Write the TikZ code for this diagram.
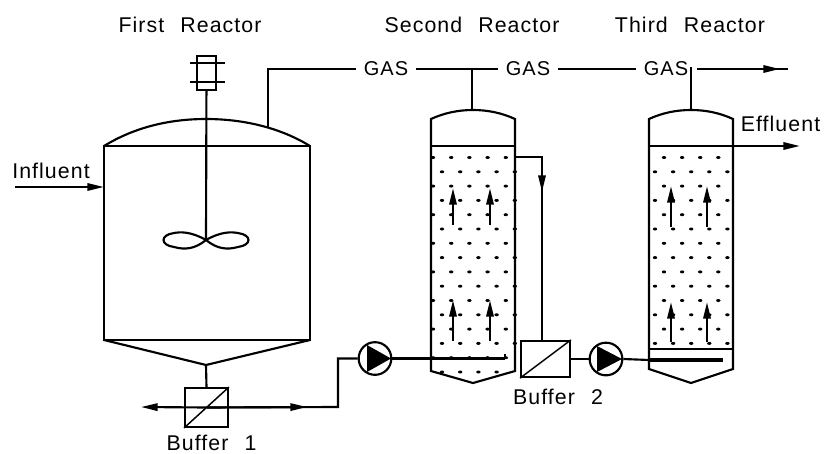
\documentclass[tikz,border=0pt]{standalone}
\usepackage{fontspec}
\setmainfont[LetterSpace=5,WordSpace=2.3]{Liberation Sans}
\usetikzlibrary{arrows.meta}
\tikzset{
  pipe/.style={line width=1.6pt},
  thinline/.style={line width=1.1pt},
  flow/.style={pipe,-{Stealth[inset=0pt,length=12.5pt,width=5.5pt]}},
  label/.style={inner sep=0pt,font=\fontsize{16}{16}\selectfont},
  gaslabel/.style={inner sep=0pt,minimum width=45pt,font=\fontsize{15}{15}\selectfont},
  buffer/.style={draw,line width=1.6pt,rectangle,inner sep=0pt},
  pump/.style={draw,line width=1.6pt,circle,inner sep=0pt,minimum size=24.5pt,fill=white},
}
\begin{document}
\begin{tikzpicture}[x=0.75pt,y=-0.75pt]
  \useasboundingbox (0,0) rectangle (826,454);
  % titles
  \node[label] (first) at (190,25) {First Reactor};
  \node[label] (second) at (472,25) {Second Reactor};
  \node[label] (third) at (690,25) {Third Reactor};
  \node[gaslabel] (gas1) at (386,69) {GAS};
  \node[gaslabel] (gas2) at (528,69) {GAS};
  \node[gaslabel] (gas3) at (666,69) {GAS};
  \node[label] (influent) at (51,171) {Influent};
  \node[label] (effluent) at (780.5,124) {Effluent};
  \node[label] (lab1) at (211.5,443) {Buffer 1};
  \node[label] (lab2) at (558,397) {Buffer 2};
  % first reactor
  \draw[pipe] (104,146) rectangle (310,340);
  \draw[pipe] (104,146) .. controls (135,127) and (170,119) .. (206,119) .. controls (242,119) and (279,127) .. (310,146);
  \draw[pipe] (104,340) -- (206,365) -- (310,340);
  \coordinate (dome1) at (206,119);
  \coordinate (tip1) at (206,365);
  \node[draw,line width=1.3pt,minimum width=14pt,minimum height=26pt,inner sep=0pt] (motor) at (206.5,73) {};
  \draw[thinline] (190,63) -- (225,63);
  \draw[thinline] (190,82) -- (225,82);
  \coordinate (hub) at (206,240);
  \draw[pipe] (motor) -- (hub);
  \draw[pipe] (hub) .. controls (190,231) and (180,232) .. (174,233) .. controls (160,235) and (160,245) .. (174,247) .. controls (185,250) and (195,249) .. (hub);
  \draw[pipe] (hub) .. controls (222,231) and (232,232) .. (238,233) .. controls (252,235) and (252,245) .. (238,247) .. controls (227,250) and (217,249) .. (hub);
  % second reactor
  \draw[pipe] (431,146) -- (515,146);
  \draw[pipe] (473,110) .. controls (458,110) and (444,113) .. (431,119) -- (431,371) -- (473,383) -- (515,371) -- (515,119) .. controls (502,113) and (488,110) .. (473,110);
  % third reactor
  \draw[pipe] (649,146) -- (733,146);
  \draw[pipe] (649,349) -- (733,349);
  \draw[pipe] (691,110) .. controls (676,110) and (662,113) .. (649,119) -- (649,369) -- (691,383) -- (733,369) -- (733,119) .. controls (720,113) and (706,110) .. (691,110);
  % packing
  \foreach \k in {0,...,15} {
    \pgfmathsetmacro{\rowy}{157.5+14.3*\k}
    \pgfmathtruncatemacro{\odd}{mod(\k,2)}
    \pgfmathsetmacro{\rowx}{433+9*\odd}
    \foreach \i in {0,...,4} {
      \ifnum\k=15 \ifnum\i=4 \else
        \fill (\rowx+18.2*\i,\rowy) circle[x radius=2.2,y radius=1.5];
      \fi \else
        \fill (\rowx+18.2*\i,\rowy) circle[x radius=2.2,y radius=1.5];
      \fi
    }
  }
  \foreach \k in {0,...,13} {
    \pgfmathsetmacro{\rowy}{157.5+14.3*\k}
    \pgfmathtruncatemacro{\odd}{mod(\k,2)}
    \ifnum\odd=1
      \foreach \i in {0,...,4} { \fill (655+18.1*\i,\rowy) circle[x radius=2.2,y radius=1.5]; }
    \else
      \foreach \i in {0,...,3} { \fill (664+18.1*\i,\rowy) circle[x radius=2.2,y radius=1.5]; }
    \fi
  }
  % rising flow
  \foreach \x in {453,490} {
    \draw[flow] (\x,225) -- (\x,188);
    \draw[flow] (\x,341) -- (\x,300);
  }
  \foreach \x in {671,707} {
    \draw[flow] (\x,227) -- (\x,186);
    \draw[flow] (\x,342) -- (\x,302);
  }
  % pipe work
  \node[buffer,minimum width=32pt,minimum height=29pt] (buffer1) at (206.5,407.5) {};
  \node[buffer,minimum width=36.5pt,minimum height=27pt] (buffer2) at (545.5,359) {};
  \node[pump] (pump1) at (375,358.5) {};
  \node[pump] (pump2) at (606,359) {};
  \draw[thinline] (buffer1.south west) -- (buffer1.north east);
  \draw[thinline] (buffer2.south west) -- (buffer2.north east);
  \fill (367,345) -- (391,358.5) -- (367,372) -- cycle;
  \fill (597,346) -- (622,359) -- (597,372) -- cycle;
  \coordinate (out1) at (141,407);
  \coordinate (mid1) at (307,407);
  \draw[pipe] (tip1) -- (buffer1.north);
  \draw[flow] (buffer1.center) -- (out1);
  \draw[flow] (buffer1.center) -- (mid1);
  \draw[pipe] (buffer1.center) -- (338,407) -- (338,358.5) -- (pump1.west);
  \coordinate (spg2) at (431,358.5);
  \coordinate (spg2end) at (505,358.5);
  \draw[pipe] (pump1.east) -- (spg2);
  \draw[line width=2.6pt] (spg2) -- (spg2end);
  \draw[pipe] (spg2end) -- (505,354);
  \coordinate (over2) at (515,157);
  \coordinate (mid2) at (542,192);
  \draw[pipe] (over2) -- (542,157) -- (buffer2.north -| mid2);
  \draw[flow] (542,170) -- (mid2);
  \draw[pipe] (buffer2) -- (pump2);
  \coordinate (spg3) at (649,360);
  \coordinate (spg3end) at (723,360);
  \draw[pipe] (pump2.east) -- (spg3);
  \draw[line width=3pt] (spg3) -- (spg3end);
  % gas line
  \coordinate (dome2) at (472,110);
  \coordinate (dome3) at (691,110);
  \coordinate (gasend) at (788,69);
  \coordinate (gasmid) at (780,69);
  \coordinate (vent1) at (268,127);
  \draw[pipe] (vent1) -- (268,69) -- (gas1.west);
  \draw[pipe] (gas1.east) -- (gas2.west);
  \draw[pipe] (gas2.east) -- (gas3.west);
  \draw[pipe] (472,69) -- (dome2);
  \draw[pipe] (691,67) -- (dome3);
  \draw[pipe] (697,69) -- (gasend);
  \draw[flow] (697,69) -- (gasmid);
  % feed and product
  \coordinate (feed) at (15,187);
  \coordinate (feedend) at (104,187);
  \draw[flow] (feed) -- (feedend);
  \coordinate (prod) at (733,146);
  \coordinate (prodend) at (800,146);
  \draw[flow] (prod) -- (prodend);
\end{tikzpicture}
\end{document}
